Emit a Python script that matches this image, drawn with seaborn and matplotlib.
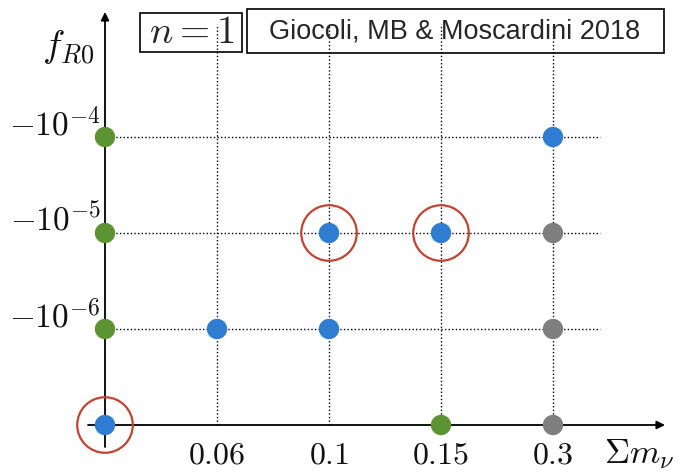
import matplotlib
matplotlib.use("Agg")
import matplotlib.pyplot as plt
import seaborn as sns
import pandas as pd
from matplotlib.patches import Rectangle

# ---- data ----
mnu_categories = [0.0, 0.06, 0.1, 0.15, 0.3]
mnu_ticklabels = ["", "$0.06$", "$0.1$", "$0.15$", "$0.3$"]
fr0_categories = [0.0, -1e-6, -1e-5, -1e-4]
fr0_ticklabels = ["", r"$-10^{-6}$", r"$-10^{-5}$", r"$-10^{-4}$"]

point_mnu = [0.0, 0.0, 0.0, 0.0, 0.06, 0.1, 0.1, 0.15, 0.15, 0.3, 0.3, 0.3, 0.3]
point_fr0 = [0.0, -1e-6, -1e-5, -1e-4, -1e-6, -1e-6, -1e-5, 0.0, -1e-5, 0.0, -1e-6, -1e-5, -1e-4]
point_group = ["run", "other", "other", "other", "run", "run", "run", "other", "run",
               "planned", "planned", "planned", "run"]

highlight_mnu = [0.0, 0.1, 0.15]
highlight_fr0 = [0.0, -1e-5, -1e-5]

palette = {"run": "#2f7dd3", "other": "#5b9430", "planned": "#7f7f7f"}

sns.set_theme(style="white")
plt.rcParams["mathtext.fontset"] = "cm"
plt.rcParams["font.family"] = ["Liberation Sans", "DejaVu Sans"]

df = pd.DataFrame({
    "x": [mnu_categories.index(v) for v in point_mnu],
    "y": [fr0_categories.index(v) for v in point_fr0],
    "group": point_group,
})
hl = pd.DataFrame({
    "x": [mnu_categories.index(v) for v in highlight_mnu],
    "y": [fr0_categories.index(v) for v in highlight_fr0],
})

W, H = 682, 472
fig = plt.figure(figsize=(W / 100, H / 100), dpi=100)
ax = fig.add_axes([0, 0, 1, 1])
ax.set_axis_off()

# pixel mapping
x0px, dxpx = 105, 112
y0px, dypx = 425, 96
def px_x(p):
    return (p - x0px) / dxpx
def px_y(p):
    return (y0px - p) / dypx

dot = (0, (1, 1.6))
nx = len(mnu_categories)
ny = len(fr0_categories)
# grid lines
for i in range(1, nx):
    ax.plot([i, i], [0, px_y(24)], color="black", lw=1.0, ls=dot, zorder=1)
for j in range(1, ny):
    ax.plot([0, px_x(600)], [j, j], color="black", lw=1.0, ls=dot, zorder=1)

# axes arrows
ax.annotate("", xy=(px_x(665), 0), xytext=(px_x(88), 0),
            arrowprops=dict(arrowstyle="-|>", color="black", lw=1.3,
                            mutation_scale=12, shrinkA=0, shrinkB=0), zorder=2)
ax.annotate("", xy=(0, px_y(12)), xytext=(0, px_y(447)),
            arrowprops=dict(arrowstyle="-|>", color="black", lw=1.3,
                            mutation_scale=12, shrinkA=0, shrinkB=0), zorder=2)

# points
sns.scatterplot(data=df, x="x", y="y", hue="group", palette=palette, s=215,
                linewidth=0, legend=False, ax=ax, zorder=4)
sns.scatterplot(data=hl, x="x", y="y", s=1600, facecolor="none",
                edgecolor="#c4432f", linewidth=1.6, legend=False, ax=ax, zorder=5)
ax.set_xlim(px_x(0), px_x(W))
ax.set_ylim(px_y(H), px_y(0))

# tick labels
for i, lab in enumerate(mnu_ticklabels):
    if lab:
        ax.text(i, px_y(456), lab, ha="center", va="center", fontsize=23, color="#111111")
for j, lab in enumerate(fr0_ticklabels):
    if lab:
        ax.text(px_x(101), j + 12 / dypx, lab, ha="right", va="center", fontsize=24,
                color="#111111")

ax.text(px_x(604), px_y(454), r"$\Sigma m_\nu$", ha="left", va="center", fontsize=25,
        color="#111111")
ax.text(px_x(68), px_y(47), r"$f_{R0}$", ha="center", va="center", fontsize=27,
        color="#111111")

# boxes
def box(x1, y1, x2, y2):
    ax.add_patch(Rectangle((px_x(x1), px_y(y2)), (x2 - x1) / dxpx, (y2 - y1) / dypx,
                           fill=False, edgecolor="black", lw=1.2, zorder=6))
box(140, 13, 242, 52)
ax.text(px_x(192), px_y(33), r"$n=1$", ha="center", va="center", fontsize=28, zorder=7)
box(247, 9, 664, 53)
ax.text(px_x(455), px_y(32), "Giocoli, MB & Moscardini 2018", ha="center", va="center",
        fontsize=19.5, zorder=7)

fig.savefig("out.png", dpi=100)
